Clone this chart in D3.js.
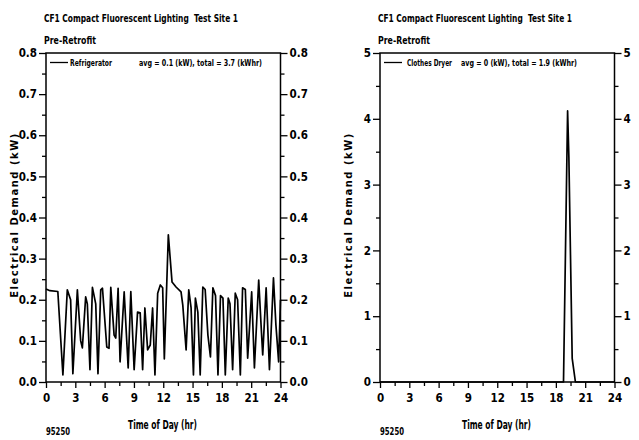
<!DOCTYPE html>
<html><head><meta charset="utf-8">
<script src="https://cdn.jsdelivr.net/npm/d3@7"></script>
<style>
body{margin:0;background:#fff;}
svg text{font-family:"Liberation Sans Narrow","DejaVu Sans Condensed","Liberation Sans",sans-serif;font-weight:bold;fill:#000;white-space:pre;}
.ylab{font-family:"DejaVu Sans","Liberation Sans",sans-serif !important;font-weight:bold !important;font-size:10px;letter-spacing:1.5px;}
</style></head><body>
<script>
// ---- data ----
const titleText = "CF1 Compact Fluorescent Lighting  Test Site 1";
const subTitle = "Pre-Retrofit";
const siteId = "95250";
const xLabel = "Time of Day (hr)";
const yLabel = "Electrical Demand (kW)";
const xTicks = [0,3,6,9,12,15,18,21,24];
const xMinor = [1.5,4.5,7.5,10.5,13.5,16.5,19.5,22.5];
const yTicksRef = [0,0.1,0.2,0.3,0.4,0.5,0.6,0.7,0.8];
const yMinorRef = [0.05,0.15,0.25,0.35,0.45,0.55,0.65,0.75];
const yTicksDry = [0,1,2,3,4,5];
const yMinorDry = [0.5,1.5,2.5,3.5,4.5];

const refHours = [0,0.4,1.21,1.73,2.18,2.52,2.75,3.21,3.55,3.72,4.06,4.23,4.50,4.75,5.09,5.32,5.60,5.78,6.22,6.45,6.63,6.97,7.14,7.38,7.58,8.00,8.41,8.68,9.02,9.37,9.64,9.89,10.12,10.40,10.67,10.91,11.15,11.43,11.70,11.94,12.11,12.52,12.90,13.31,13.82,14.00,14.34,14.61,14.85,15.09,15.29,15.54,15.78,16.05,16.29,16.57,16.83,17.08,17.35,17.60,17.86,18.11,18.35,18.65,18.83,19.10,19.37,19.61,19.89,20.12,20.40,20.64,21.05,21.33,21.77,22.01,22.18,22.53,22.87,23.28,23.53,23.81,24];
const refKW = [0.226,0.222,0.22,0.017,0.224,0.20,0.02,0.224,0.10,0.083,0.207,0.19,0.03,0.23,0.19,0.02,0.224,0.228,0.085,0.082,0.23,0.114,0.107,0.228,0.049,0.219,0.034,0.22,0.03,0.17,0.168,0.03,0.18,0.078,0.09,0.18,0.017,0.216,0.236,0.229,0.056,0.358,0.243,0.231,0.219,0.187,0.078,0.224,0.18,0.017,0.204,0.17,0.017,0.231,0.225,0.114,0.061,0.229,0.21,0.017,0.21,0.204,0.017,0.204,0.19,0.03,0.216,0.20,0.017,0.229,0.225,0.058,0.219,0.034,0.248,0.139,0.066,0.229,0.03,0.253,0.139,0.049,0.20];

const dryHours = [0,18.78,19.2,19.33,19.67,20.0,24];
const dryKW = [0,0,4.12,3.42,0.36,0,0];

const panels = [
  {x0:46, legendName:"Refrigerator", legendStats:"avg = 0.1 (kW), total = 3.7 (kWhr)", hours:refHours, kw:refKW, ymax:0.8, ticks:yTicksRef, minor:yMinorRef, fmt:d3.format(".1f"),
   nameX:70, nameW:42, statsX:139, statsW:123},
  {x0:380, legendName:"Clothes Dryer", legendStats:"avg = 0 (kW), total = 1.9 (kWhr)", hours:dryHours, kw:dryKW, ymax:5, ticks:yTicksDry, minor:yMinorDry, fmt:d3.format("d"),
   nameX:407, nameW:45, statsX:461, statsW:116}
];

const W=639,H=440;
const svg = d3.select("body").append("svg").attr("width",W).attr("height",H);
const pw = 234.5, plotTop=53, plotBot=382;

panels.forEach(p=>{
  const g = svg.append("g");
  const x = d3.scaleLinear().domain([0,24]).range([p.x0,p.x0+pw]);
  const y = d3.scaleLinear().domain([0,p.ymax]).range([plotBot,plotTop]);
  // titles
  g.append("text").attr("x",p.x0-2).attr("y",22).attr("font-size",10.5)
    .attr("textLength",194).attr("lengthAdjust","spacingAndGlyphs").text(titleText);
  g.append("text").attr("x",p.x0-2).attr("y",44).attr("font-size",11)
    .attr("textLength",52).attr("lengthAdjust","spacingAndGlyphs").text(subTitle);
  // axes
  const styleAxis = sel=>{sel.select(".domain").remove(); sel.selectAll("line").attr("stroke","#000").attr("stroke-width",1.3);
    sel.selectAll("text").attr("font-size",11.5).style("font-family",'"Liberation Sans Narrow","DejaVu Sans Condensed",sans-serif').style("font-weight","bold");};
  g.append("g").attr("transform",`translate(0,${plotBot})`)
    .call(d3.axisBottom(x).tickValues(xTicks).tickSize(6).tickPadding(6).tickFormat(d3.format("d"))).call(styleAxis);
  g.append("g").attr("transform",`translate(0,${plotBot})`)
    .call(d3.axisBottom(x).tickValues(xMinor).tickSize(4).tickFormat("")).call(styleAxis);
  g.append("g").attr("transform",`translate(${p.x0},0)`)
    .call(d3.axisLeft(y).tickValues(p.ticks).tickSize(7).tickPadding(2).tickFormat(p.fmt)).call(styleAxis);
  g.append("g").attr("transform",`translate(${p.x0},0)`)
    .call(d3.axisLeft(y).tickValues(p.minor).tickSize(4).tickFormat("")).call(styleAxis);
  g.append("g").attr("transform",`translate(${p.x0+pw},0)`)
    .call(d3.axisRight(y).tickValues(p.ticks).tickSize(7).tickPadding(2).tickFormat(p.fmt)).call(styleAxis);
  g.append("g").attr("transform",`translate(${p.x0+pw},0)`)
    .call(d3.axisRight(y).tickValues(p.minor).tickSize(4).tickFormat("")).call(styleAxis);
  // frame
  g.append("rect").attr("x",p.x0).attr("y",plotTop).attr("width",pw).attr("height",plotBot-plotTop)
    .attr("fill","none").attr("stroke","#000").attr("stroke-width",1.5);
  // data line
  const pts = p.hours.map((h,i)=>[h,p.kw[i]]);
  g.append("path").datum(pts).attr("fill","none").attr("stroke","#000").attr("stroke-width",1.7)
    .attr("stroke-linejoin","round")
    .attr("d",d3.line().x(d=>x(d[0])).y(d=>y(d[1])));
  // legend
  g.append("line").attr("x1",p.x0+4).attr("x2",p.x0+22).attr("y1",62.5).attr("y2",62.5).attr("stroke","#000").attr("stroke-width",1.3);
  g.append("text").attr("x",p.nameX).attr("y",65.5).attr("font-size",8.5).attr("textLength",p.nameW).attr("lengthAdjust","spacingAndGlyphs").text(p.legendName);
  g.append("text").attr("x",p.statsX).attr("y",65.5).attr("font-size",8.5).attr("textLength",p.statsW).attr("lengthAdjust","spacingAndGlyphs").text(p.legendStats);
  // labels
  g.append("text").attr("x",p.x0+82).attr("y",429).attr("font-size",12).attr("textLength",69).attr("lengthAdjust","spacingAndGlyphs").text(xLabel);
  g.append("text").attr("x",p.x0).attr("y",435).attr("font-size",11).attr("textLength",24).attr("lengthAdjust","spacingAndGlyphs").text(siteId);
  g.append("text").attr("class","ylab").attr("text-anchor","middle")
    .attr("transform",`translate(${p.x0-28},215) rotate(-90)`).text(yLabel);
});
</script>
</body></html>
